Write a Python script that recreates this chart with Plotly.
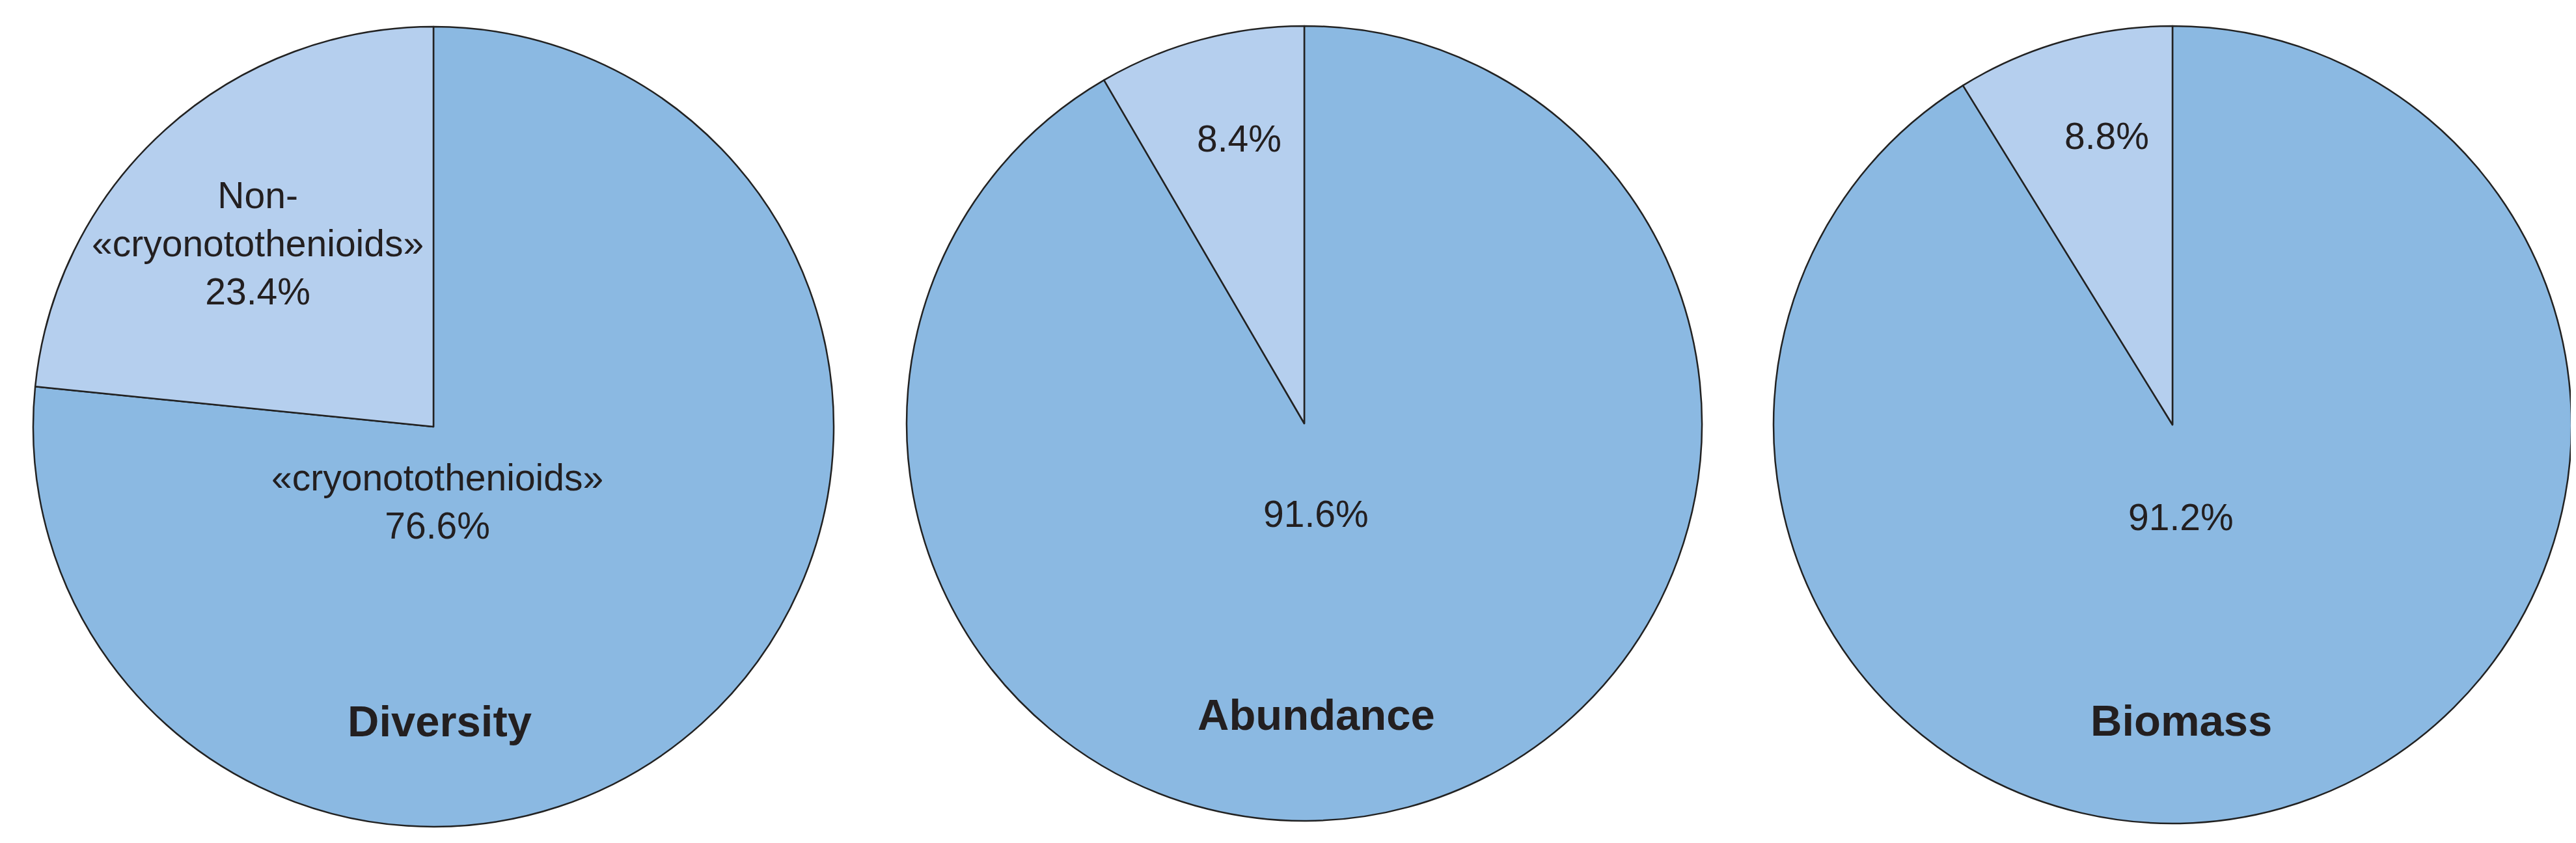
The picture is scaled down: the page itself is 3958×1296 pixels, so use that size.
import plotly.graph_objects as go

# share of species / individuals / weight; the light slice sits left of 12 o'clock
PANELS = ["Diversity", "Abundance", "Biomass"]
GROUPS = ["«cryonotothenioids»", "Non-«cryonotothenioids»"]
VALUES = {
    "Diversity": [76.6, 23.4],
    "Abundance": [91.6, 8.4],
    "Biomass": [91.2, 8.8],
}

W, H = 3958, 1296
MAIN = "#8bb9e2"
LIGHT = "#b5cfee"
EDGE = "#222222"
# no narrow face offline, so plain Liberation Sans a touch smaller
FONT = "Liberation Sans Narrow, Arial Narrow, Liberation Sans, Arial, sans-serif"
INK = "#231f20"

# pie placement in pixels: center x, center y, radius
PLACE = {
    "Diversity": (658, 648, 615),
    "Abundance": (1996, 643, 611),
    "Biomass": (3330, 645, 613),
}

# label boxes (pixel offsets from pie center)
SMALL_OFF = {"Diversity": (-270, -282), "Abundance": (-100, -438), "Biomass": (-101, -444)}
BIG_OFF = {"Diversity": (6, 115), "Abundance": (18, 139), "Biomass": (13, 142)}
TITLE_OFF = {"Diversity": (9, 452), "Abundance": (18, 447), "Biomass": (13, 454)}


def px(x, y):
    return x / W, 1 - y / H


fig = go.Figure()
annotations = []
for name in PANELS:
    cx, cy, r = PLACE[name]
    x0, y1 = px(cx - r, cy - r)
    x1, y0 = px(cx + r, cy + r)
    vals = VALUES[name]
    fig.add_trace(go.Pie(
        labels=GROUPS,
        values=vals,
        sort=False,
        direction="clockwise",
        rotation=0,
        textinfo="none",
        marker=dict(colors=[MAIN, LIGHT], line=dict(color=EDGE, width=2.5)),
        domain=dict(x=[x0, x1], y=[y0, y1]),
        showlegend=False,
        hoverinfo="label+percent",
    ))

    if name == "Diversity":
        small_txt = f"Non-<br>«cryonotothenioids»<br>{vals[1]:.1f}%"
        big_txt = f"«cryonotothenioids»<br>{vals[0]:.1f}%"
    else:
        small_txt = f"{vals[1]:.1f}%"
        big_txt = f"{vals[0]:.1f}%"

    for txt, (dx, dy) in ((small_txt, SMALL_OFF[name]), (big_txt, BIG_OFF[name])):
        ax, ay = px(cx + dx, cy + dy)
        annotations.append(dict(
            x=ax, y=ay, xref="paper", yref="paper", text=txt, showarrow=False,
            xanchor="center", yanchor="middle",
            font=dict(family=FONT, size=57, color=INK),
        ))
    tx, ty = px(cx + TITLE_OFF[name][0], cy + TITLE_OFF[name][1])
    annotations.append(dict(
        x=tx, y=ty, xref="paper", yref="paper", text=f"<b>{name}</b>", showarrow=False,
        xanchor="center", yanchor="middle",
        font=dict(family=FONT, size=67, color=INK),
    ))

fig.update_layout(
    width=W, height=H,
    margin=dict(l=0, r=0, t=0, b=0),
    paper_bgcolor="white",
    annotations=annotations,
)
fig.write_html("out.html")
